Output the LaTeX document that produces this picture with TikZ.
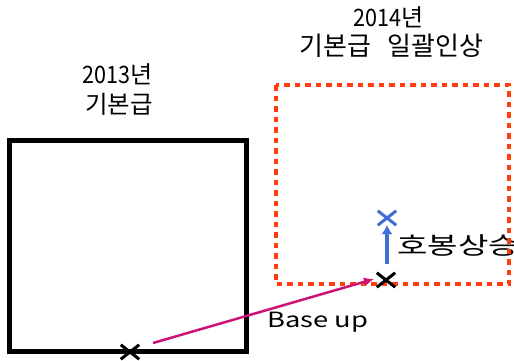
\documentclass[tikz,border=0pt]{standalone}
\usepackage{fontspec}
\setmainfont{Noto Sans CJK KR}
\usetikzlibrary{arrows.meta}
\definecolor{redo}{HTML}{FF3D0F}
\definecolor{magen}{HTML}{CC1177}
\definecolor{blu}{HTML}{3D6FD6}
\tikzset{
  lbl/.style={inner sep=0pt, font=\fontsize{24}{26}\selectfont, align=center},
  wide/.style={inner sep=0pt, anchor=west, font=\fontsize{24}{26}\selectfont},
  xmark/.style={inner sep=0pt, minimum width=18pt, minimum height=14pt},
}
\begin{document}
\begin{tikzpicture}[x=1pt,y=-1pt]
\useasboundingbox (0,0) rectangle (514,360);
% left square
\draw[line width=5pt] (9.5,140.5) rectangle (246,351);
% texts
\node[lbl] (t13) at (118,74) {\scalebox{0.9}[1]{2013}년};
\node[lbl, font=\fontsize{24.5}{26}\selectfont] (b13) at (119,104) {기본급};
\node[lbl] (t14) at (389,17) {\scalebox{0.9}[1]{2014}년};
\node[lbl, font=\fontsize{26}{28}\selectfont] (b14) at (391.5,46) {기본급\hspace{0.6em}일괄인상};
\node[wide] (hb) at (397,245) {\scalebox{1.38}[1]{호봉상승}};
\node[wide, font=\fontsize{21}{24}\selectfont] (bu) at (267,322) {\scalebox{1.3}[1]{Base up}};
% dotted rectangle
\draw[redo, line width=4pt, dash pattern=on 5.5pt off 5pt] (276,85) rectangle (509,284);
% marks
\node[xmark] (x0) at (130,352) {};
\draw[line width=3pt] (x0.south west) -- (x0.north east) (x0.north west) -- (x0.south east);
\node[xmark] (x1) at (386,280) {};
\draw[line width=3pt] (x1.south west) -- (x1.north east) (x1.north west) -- (x1.south east);
\node[xmark] (x2) at (387,218) {};
\draw[blu, line width=3pt] (x2.south west) -- (x2.north east) (x2.north west) -- (x2.south east);
% arrows
\coordinate (a0) at (153,343);
\coordinate (a1) at (374,279);
\draw[magen, line width=2.5pt, -{Latex[length=10pt,width=9pt]}] (a0) -- (a1);
\coordinate (u0) at (387,264);
\coordinate (u1) at (387,225);
\draw[blu, line width=4pt, -{Latex[length=9pt,width=11pt]}] (u0) -- (u1);
\end{tikzpicture}
\end{document}
